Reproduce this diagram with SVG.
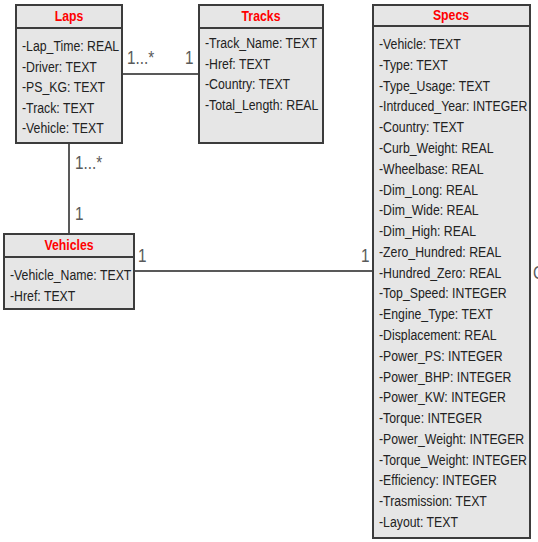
<svg xmlns="http://www.w3.org/2000/svg" width="538" height="542" viewBox="0 0 538 542">
<style>
.box{fill:#e6e6e6;stroke:#3c3c3c;stroke-width:2}
.sep{stroke:#3c3c3c;stroke-width:2}
.title{font-family:"Liberation Sans",Arial,sans-serif;font-size:15px;font-weight:bold;fill:#ff0000;text-anchor:middle}
.attr{font-family:"Liberation Sans",Arial,sans-serif;font-size:15px;fill:#222}
.lbl{font-family:"Liberation Sans",Arial,sans-serif;font-size:18px;fill:#5a5a5a}
.conn{stroke:#222;stroke-width:1.5;fill:none}
</style>
<rect width="538" height="542" fill="#ffffff"/>
<g id="connectors">
<line class="conn" x1="122" y1="74" x2="199" y2="74"/>
<line class="conn" x1="69" y1="143" x2="69" y2="234"/>
<line class="conn" x1="134" y1="271" x2="373" y2="271"/>
<text class="lbl" transform="translate(127,64) scale(0.85,1)">1...*</text>
<text class="lbl" transform="translate(185,64) scale(0.85,1)">1</text>
<text class="lbl" transform="translate(75,169) scale(0.85,1)">1...*</text>
<text class="lbl" transform="translate(75,220) scale(0.85,1)">1</text>
<text class="lbl" transform="translate(138,262) scale(0.85,1)">1</text>
<text class="lbl" transform="translate(361,262) scale(0.85,1)">1</text>
<text class="lbl" transform="translate(533,279) scale(0.85,1)">C</text>
</g>
<g id="laps">
<rect class="box" x="16" y="5" width="106" height="138"/>
<line class="sep" x1="16" y1="28" x2="122" y2="28"/>
<text class="title" transform="translate(69,21) scale(0.82,1)">Laps</text>
<text class="attr" transform="translate(22,51) scale(0.82,1)">-Lap_Time: REAL</text>
<text class="attr" transform="translate(22,71.5) scale(0.82,1)">-Driver: TEXT</text>
<text class="attr" transform="translate(22,92) scale(0.82,1)">-PS_KG: TEXT</text>
<text class="attr" transform="translate(22,112.5) scale(0.82,1)">-Track: TEXT</text>
<text class="attr" transform="translate(22,133) scale(0.82,1)">-Vehicle: TEXT</text>
</g>
<g id="tracks">
<rect class="box" x="199" y="5" width="124" height="138"/>
<line class="sep" x1="199" y1="28" x2="323" y2="28"/>
<text class="title" transform="translate(261,21) scale(0.82,1)">Tracks</text>
<text class="attr" transform="translate(205,48) scale(0.82,1)">-Track_Name: TEXT</text>
<text class="attr" transform="translate(205,68.5) scale(0.82,1)">-Href: TEXT</text>
<text class="attr" transform="translate(205,89) scale(0.82,1)">-Country: TEXT</text>
<text class="attr" transform="translate(205,109.5) scale(0.82,1)">-Total_Length: REAL</text>
</g>
<g id="vehicles">
<rect class="box" x="4" y="234" width="130" height="75"/>
<line class="sep" x1="4" y1="257" x2="134" y2="257"/>
<text class="title" transform="translate(69,250) scale(0.82,1)">Vehicles</text>
<text class="attr" transform="translate(10,280) scale(0.82,1)">-Vehicle_Name: TEXT</text>
<text class="attr" transform="translate(10,301) scale(0.82,1)">-Href: TEXT</text>
</g>
<g id="specs">
<rect class="box" x="373" y="5" width="157" height="533"/>
<line class="sep" x1="373" y1="26" x2="530" y2="26"/>
<text class="title" transform="translate(451,20) scale(0.82,1)">Specs</text>
<text class="attr" transform="translate(379,49) scale(0.82,1)">-Vehicle: TEXT</text>
<text class="attr" transform="translate(379,69.8) scale(0.82,1)">-Type: TEXT</text>
<text class="attr" transform="translate(379,90.6) scale(0.82,1)">-Type_Usage: TEXT</text>
<text class="attr" transform="translate(379,111.4) scale(0.82,1)">-Intrduced_Year: INTEGER</text>
<text class="attr" transform="translate(379,132.1) scale(0.82,1)">-Country: TEXT</text>
<text class="attr" transform="translate(379,152.9) scale(0.82,1)">-Curb_Weight: REAL</text>
<text class="attr" transform="translate(379,173.7) scale(0.82,1)">-Wheelbase: REAL</text>
<text class="attr" transform="translate(379,194.5) scale(0.82,1)">-Dim_Long: REAL</text>
<text class="attr" transform="translate(379,215.2) scale(0.82,1)">-Dim_Wide: REAL</text>
<text class="attr" transform="translate(379,236) scale(0.82,1)">-Dim_High: REAL</text>
<text class="attr" transform="translate(379,256.8) scale(0.82,1)">-Zero_Hundred: REAL</text>
<text class="attr" transform="translate(379,277.6) scale(0.82,1)">-Hundred_Zero: REAL</text>
<text class="attr" transform="translate(379,298.4) scale(0.82,1)">-Top_Speed: INTEGER</text>
<text class="attr" transform="translate(379,319.1) scale(0.82,1)">-Engine_Type: TEXT</text>
<text class="attr" transform="translate(379,339.9) scale(0.82,1)">-Displacement: REAL</text>
<text class="attr" transform="translate(379,360.7) scale(0.82,1)">-Power_PS: INTEGER</text>
<text class="attr" transform="translate(379,381.5) scale(0.82,1)">-Power_BHP: INTEGER</text>
<text class="attr" transform="translate(379,402.2) scale(0.82,1)">-Power_KW:  INTEGER</text>
<text class="attr" transform="translate(379,423) scale(0.82,1)">-Torque: INTEGER</text>
<text class="attr" transform="translate(379,443.8) scale(0.82,1)">-Power_Weight: INTEGER</text>
<text class="attr" transform="translate(379,464.6) scale(0.82,1)">-Torque_Weight: INTEGER</text>
<text class="attr" transform="translate(379,485.3) scale(0.82,1)">-Efficiency: INTEGER</text>
<text class="attr" transform="translate(379,506.1) scale(0.82,1)">-Trasmission: TEXT</text>
<text class="attr" transform="translate(379,526.9) scale(0.82,1)">-Layout: TEXT</text>
</g>
</svg>
